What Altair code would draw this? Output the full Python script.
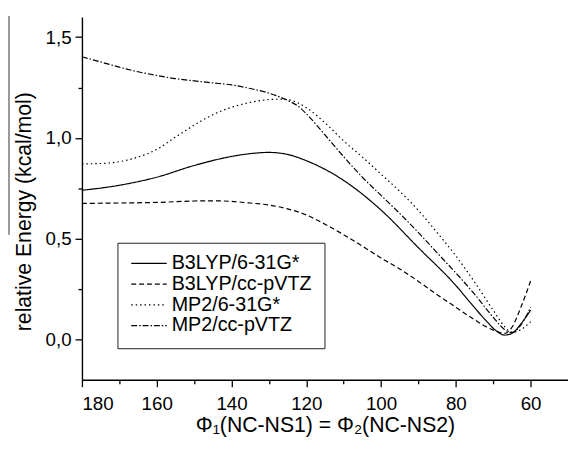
import altair as alt
import pandas as pd

FONT = "Liberation Sans"

series_names = ["B3LYP/6-31G*", "B3LYP/cc-pVTZ", "MP2/6-31G*", "MP2/cc-pVTZ"]

b3lyp_631_x = [180, 170, 160, 150, 140, 135, 130, 125, 120, 110, 100, 90, 80, 76, 72, 69, 67, 65, 62.5, 60]
b3lyp_631_y = [0.74, 0.765, 0.805, 0.863, 0.908, 0.922, 0.928, 0.918, 0.887, 0.789, 0.642, 0.455, 0.268, 0.18, 0.095, 0.04, 0.022, 0.03, 0.08, 0.145]

b3lyp_vtz_x = [180, 170, 160, 150, 145, 140, 135, 130, 125, 120, 115, 110, 105, 100, 95, 90, 85, 80, 76, 72, 69, 67, 65, 62.5, 60]
b3lyp_vtz_y = [0.675, 0.677, 0.68, 0.687, 0.688, 0.685, 0.677, 0.667, 0.648, 0.618, 0.572, 0.52, 0.463, 0.404, 0.35, 0.288, 0.222, 0.16, 0.11, 0.064, 0.04, 0.03, 0.06, 0.165, 0.29]

mp2_631_x = [180, 175, 170, 165, 160, 155, 150, 145, 140, 135, 130, 127, 125, 120, 115, 110, 105, 100, 95, 90, 85, 80, 75, 70, 67, 65, 63, 60]
mp2_631_y = [0.871, 0.873, 0.882, 0.905, 0.943, 1.004, 1.063, 1.115, 1.152, 1.176, 1.19, 1.192, 1.19, 1.15, 1.075, 0.985, 0.905, 0.82, 0.735, 0.64, 0.53, 0.415, 0.285, 0.145, 0.065, 0.035, 0.045, 0.088]

mp2_vtz_x = [180, 175, 170, 165, 160, 155, 150, 145, 140, 135, 130, 125, 122, 120, 115, 110, 105, 100, 95, 90, 85, 80, 75, 70, 67, 65, 62.5, 60]
mp2_vtz_y = [1.402, 1.377, 1.351, 1.328, 1.31, 1.294, 1.283, 1.273, 1.263, 1.245, 1.222, 1.186, 1.155, 1.12, 1.015, 0.907, 0.805, 0.715, 0.625, 0.53, 0.43, 0.33, 0.225, 0.11, 0.05, 0.035, 0.075, 0.16]

x_ticks = [180, 170, 160, 150, 140, 130, 120, 110, 100, 90, 80, 70, 60]
y_ticks = [0.0, 0.25, 0.5, 0.75, 1.0, 1.25, 1.5]

rows = []
for name, xs, ys in [
    (series_names[0], b3lyp_631_x, b3lyp_631_y),
    (series_names[1], b3lyp_vtz_x, b3lyp_vtz_y),
    (series_names[2], mp2_631_x, mp2_631_y),
    (series_names[3], mp2_vtz_x, mp2_vtz_y),
]:
    for i, (xv, yv) in enumerate(zip(xs, ys)):
        rows.append({"series": name, "phi": xv, "energy": yv, "idx": i})
df = pd.DataFrame(rows)

lines = alt.Chart(df).mark_line(
    interpolate="monotone", strokeWidth=1.2, color="black"
).encode(
    x=alt.X(
        "phi:Q",
        scale=alt.Scale(domain=[180, 50], nice=False, zero=False),
        axis=alt.Axis(
            values=x_ticks,
            title="Φ₁(NC-NS1) = Φ₂(NC-NS2)",
            labelExpr="datum.value % 20 === 0 ? datum.label : ''",
            tickSize={"condition": {"test": "datum.value % 20 === 0", "value": 7}, "value": 4},
            labelPadding=8,
            titlePadding=1,
        ),
    ),
    y=alt.Y(
        "energy:Q",
        scale=alt.Scale(domain=[-0.2, 1.6], nice=False, zero=False),
        axis=alt.Axis(
            values=y_ticks,
            title="relative Energy (kcal/mol)",
            labelExpr="datum.value % 0.5 === 0 ? replace(format(datum.value, '.1f'), '.', ',') : ''",
            tickSize={"condition": {"test": "datum.value % 0.5 === 0", "value": 7}, "value": 4},
            labelPadding=4,
            titleX=-52,
            titleY=197,
            titleBaseline="alphabetic",
            titleAlign="center",
        ),
    ),
    strokeDash=alt.StrokeDash(
        "series:N",
        scale=alt.Scale(
            domain=series_names,
            range=[[1, 0], [5, 3], [1.5, 3], [6, 2, 1.5, 2]],
        ),
        legend=alt.Legend(
            title=None,
            orient="none",
            legendX=36,
            legendY=229,
            symbolType="stroke",
            symbolSize=1296,
            symbolStrokeWidth=1.2,
            symbolStrokeColor="black",
            clipHeight=16,
            rowPadding=1,
            padding=13,
            labelOffset=4,
            labelFontSize=20,
            labelFont=FONT,
            labelColor="black",
            strokeColor="#222222",
            fillColor="white",
        ),
    ),
    order=alt.Order("idx:Q"),
)

overline = alt.Chart(pd.DataFrame({"k": [0]})).mark_rule(
    color="#333333", strokeWidth=1
).encode(
    x=alt.value(-74), y=alt.value(-1), y2=alt.value(221)
)

chart = alt.layer(lines, overline).properties(
    width=493,
    height=368,
    autosize="none",
    padding={"left": 75, "top": 6, "right": 0, "bottom": 60},
).configure_view(
    stroke=None
).configure_axis(
    grid=False,
    domainColor="black",
    domainWidth=1.4,
    tickColor="black",
    tickWidth=1.3,
    labelFont=FONT,
    labelFontSize=19,
    labelColor="black",
    titleFont=FONT,
    titleFontSize=21.5,
    titleFontWeight="normal",
    titleColor="black",
)

chart.save("out.html", embed_options={"renderer": "svg", "actions": False})
